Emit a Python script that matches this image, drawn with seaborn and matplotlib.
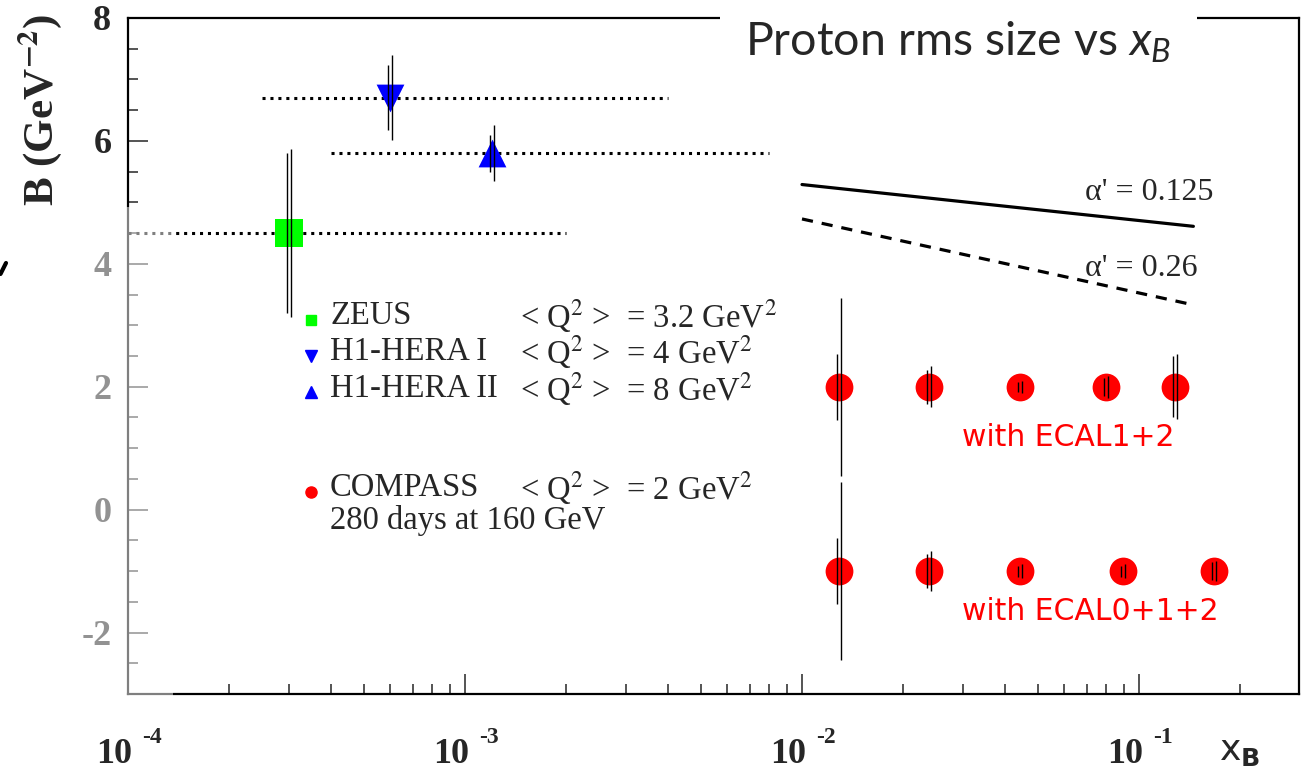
import matplotlib
matplotlib.use("Agg")
import matplotlib.pyplot as plt
import matplotlib.transforms as mtransforms
from matplotlib.patches import Rectangle
from matplotlib.lines import Line2D
from matplotlib.ticker import MultipleLocator, LogLocator, NullFormatter
import seaborn as sns

# ---------------- data ----------------
zeus_x = [3.0e-4]
zeus_y = [4.5]
zeus_stat = [1.30]
zeus_tot = [1.37]
zeus_xlo = [1.0e-4]
zeus_xhi = [2.0e-3]

h1a_x = [6.0e-4]
h1a_y = [6.7]
h1a_stat = [0.53]
h1a_tot = [0.69]
h1a_xlo = [2.5e-4]
h1a_xhi = [4.0e-3]

h1b_x = [1.2e-3]
h1b_y = [5.8]
h1b_stat = [0.30]
h1b_tot = [0.46]
h1b_xlo = [4.0e-4]
h1b_xhi = [8.0e-3]

c12_x = [0.0129, 0.0238, 0.0444, 0.0798, 0.128]
c12_y = [2.0, 2.0, 2.0, 2.0, 2.0]
c12_stat = [0.54, 0.28, 0.08, 0.15, 0.50]
c12_tot = [1.45, 0.33, 0.10, 0.18, 0.53]

c012_x = [0.0129, 0.0238, 0.0444, 0.0897, 0.167]
c012_y = [-1.0, -1.0, -1.0, -1.0, -1.0]
c012_stat = [0.54, 0.28, 0.09, 0.09, 0.14]
c012_tot = [1.45, 0.33, 0.11, 0.11, 0.16]

a125_x = [0.01, 0.145]
a125_y = [5.29, 4.61]
a26_x = [0.01, 0.14]
a26_y = [4.73, 3.35]

xtick_vals = [1e-4, 1e-3, 1e-2, 1e-1]
xtick_base = ["10", "10", "10", "10"]
xtick_exp = ["-4", "-3", "-2", "-1"]
ytick_vals = [-2, 0, 2, 4, 6, 8]
ytick_labels = ["-2", "0", "2", "4", "6", "8"]

legend_names = ["ZEUS", "H1-HERA I", "H1-HERA II", "COMPASS"]
legend_q2 = [r"< Q$^2$ >  = 3.2 GeV$^2$", r"< Q$^2$ >  = 4 GeV$^2$",
             r"< Q$^2$ >  = 8 GeV$^2$", r"< Q$^2$ >  = 2 GeV$^2$"]
compass_note = "280 days at 160 GeV"
alpha_labels = ["\u03b1' = 0.125", "\u03b1' = 0.26"]
ecal_labels = ["with ECAL1+2", "with ECAL0+1+2"]
title_text = r"Proton rms size vs $\mathit{x_B}$"
ylabel_text = r"B (GeV$^{\mathbf{-2}}$)"

# ---------------- style ----------------
sns.set_style("white")
plt.rcParams.update({
    "font.family": ["Liberation Serif", "DejaVu Sans"],
    "mathtext.fontset": "stix",
    "mathtext.it": "Lato:italic",
    "mathtext.rm": "Lato",
    "axes.unicode_minus": False,
    "axes.linewidth": 1.5,
    "axes.edgecolor": "black",
})

fig = plt.figure(figsize=(13.02, 7.74), dpi=100)
ax = fig.add_axes([128 / 1302, 1 - 694 / 774, 1171 / 1302, 676 / 774])
ax.set_xscale("log")

GREEN, BLUE, RED = "#00ff00", "#0000ff", "#ff0000"

# horizontal x-ranges (dotted)
for xlo, xhi, yy in [(zeus_xlo, zeus_xhi, zeus_y), (h1a_xlo, h1a_xhi, h1a_y), (h1b_xlo, h1b_xhi, h1b_y)]:
    ax.hlines(yy, xlo, xhi, colors="black", linestyles=(0, (1, 1.6)), linewidth=2.2, zorder=2)

# alpha' lines
sns.lineplot(x=a125_x, y=a125_y, ax=ax, color="black", linewidth=2.3, zorder=2)
l26 = sns.lineplot(x=a26_x, y=a26_y, ax=ax, color="black", linewidth=2.3, zorder=2)
l26.lines[-1].set_linestyle((0, (3.5, 2.8)))

# markers
ms = 400
sns.scatterplot(x=zeus_x, y=zeus_y, ax=ax, marker="s", s=ms, color=GREEN, linewidth=0, zorder=3)
sns.scatterplot(x=h1a_x, y=h1a_y, ax=ax, marker="v", s=ms, color=BLUE, linewidth=0, zorder=3)
sns.scatterplot(x=h1b_x, y=h1b_y, ax=ax, marker="^", s=ms, color=BLUE, linewidth=0, zorder=3)
sns.scatterplot(x=c12_x, y=c12_y, ax=ax, marker="o", s=ms, color=RED, linewidth=0, zorder=3)
sns.scatterplot(x=c012_x, y=c012_y, ax=ax, marker="o", s=ms, color=RED, linewidth=0, zorder=3)

# error bars: total (right) and stat (left), slightly offset
t_right = mtransforms.offset_copy(ax.transData, fig=fig, x=2.0, y=0, units="dots")
t_left = mtransforms.offset_copy(ax.transData, fig=fig, x=-2.0, y=0, units="dots")
for xs, ys, st, tot in [(zeus_x, zeus_y, zeus_stat, zeus_tot), (h1a_x, h1a_y, h1a_stat, h1a_tot),
                        (h1b_x, h1b_y, h1b_stat, h1b_tot), (c12_x, c12_y, c12_stat, c12_tot),
                        (c012_x, c012_y, c012_stat, c012_tot)]:
    ax.errorbar(xs, ys, yerr=tot, fmt="none", ecolor="black", elinewidth=1.0, capsize=0,
                transform=t_right, zorder=4)
    ax.errorbar(xs, ys, yerr=st, fmt="none", ecolor="black", elinewidth=1.0, capsize=0,
                transform=t_left, zorder=4)

ax.set_xlim(1e-4, 0.2984)
ax.set_ylim(-3, 8)

# ticks
ax.set_xticks(xtick_vals)
ax.set_xticklabels([""] * len(xtick_vals))
ax.xaxis.set_minor_locator(LogLocator(base=10, subs=range(2, 10), numticks=20))
ax.xaxis.set_minor_formatter(NullFormatter())
ax.set_yticks(ytick_vals)
ax.set_yticklabels(ytick_labels, fontsize=26, fontweight="bold", family="Liberation Serif")
ax.yaxis.set_minor_locator(MultipleLocator(0.5))
ax.tick_params(which="major", direction="in", length=14.5, width=1.1, left=True, bottom=True,
               right=False, top=False)
ax.tick_params(which="minor", direction="in", length=7.2, width=1.1, left=True, bottom=True,
               right=False, top=False)
ax.tick_params(axis="y", which="major", pad=12)
for s in ax.spines.values():
    s.set_linewidth(1.6)
    s.set_color("black")

# ROOT-style x tick labels: "10" with a raised exponent
for v, b, e in zip(xtick_vals, xtick_base, xtick_exp):
    ax.annotate(b, xy=(v, 0), xycoords=("data", "axes fraction"), xytext=(3.0, -50.0),
                textcoords="offset points", ha="right", va="baseline", fontsize=26,
                fontweight="bold", family="Liberation Serif", annotation_clip=False)
    ax.annotate(e, xy=(v, 0), xycoords=("data", "axes fraction"), xytext=(10.5, -35.5),
                textcoords="offset points", ha="left", va="baseline", fontsize=17,
                fontweight="bold", family="Liberation Serif", annotation_clip=False)

# legend (manual, ROOT-like)
kx = (311 - 128) / 1171
tx = (330 - 128) / 1171
qx = (520 - 128) / 1171
rows_key = [(694 - 320) / 676, (694 - 356) / 676, (694 - 392) / 676, (694 - 492) / 676]
rows_txt = [(694 - 316) / 676, (694 - 352) / 676, (694 - 389) / 676, (694 - 488) / 676]
keys = [("s", GREEN, 7), ("v", BLUE, 8), ("^", BLUE, 8), ("o", RED, 8)]
for (mk, col, m), yk, yt, name, q2 in zip(keys, rows_key, rows_txt, legend_names, legend_q2):
    ax.plot([kx], [yk], marker=mk, color=col, markersize=m, linestyle="none",
            transform=ax.transAxes, clip_on=False)
    ax.text(tx, yt, name, transform=ax.transAxes, fontsize=23.5, va="center", ha="left",
            family="Liberation Serif")
    ax.text(qx, yt, q2, transform=ax.transAxes, fontsize=23.5, va="center", ha="left",
            family="Liberation Serif")
ax.text(tx, (694 - 521) / 676, compass_note, transform=ax.transAxes, fontsize=23.5, va="center",
        ha="left", family="Liberation Serif")

# alpha' labels
ax.text((1085 - 128) / 1171, (694 - 192) / 676, alpha_labels[0], transform=ax.transAxes,
        fontsize=23, va="center", ha="left", family="Liberation Serif")
ax.text((1085 - 128) / 1171, (694 - 268) / 676, alpha_labels[1], transform=ax.transAxes,
        fontsize=23, va="center", ha="left", family="Liberation Serif")

# ECAL labels
ax.text((962 - 128) / 1171, (694 - 437) / 676, ecal_labels[0], transform=ax.transAxes,
        fontsize=21.5, color=RED, va="center", ha="left", family="DejaVu Sans")
ax.text((962 - 128) / 1171, (694 - 612) / 676, ecal_labels[1], transform=ax.transAxes,
        fontsize=21.5, color=RED, va="center", ha="left", family="DejaVu Sans")

# title box covering the top frame
ax.add_patch(Rectangle(((720 - 128) / 1171, (694 - 80) / 676), (1197 - 720) / 1171, 0.2,
                       transform=ax.transAxes, facecolor="white", edgecolor="none",
                       clip_on=False, zorder=5))
ax.text((958 - 128) / 1171, (694 - 42) / 676, title_text, transform=ax.transAxes,
        fontsize=33.5, va="center", ha="center", family="Lato", math_fontfamily="custom", zorder=6)

# axis labels
fig.text(40 / 1302, 1 - 110 / 774, ylabel_text, rotation=90, ha="center",
         va="center", fontsize=31, fontweight="bold", family="Liberation Serif")
fig.text(1240 / 1302, 1 - 752 / 774, r"$\mathsf{x}_{\mathbf{B}}$", ha="center", va="center",
         fontsize=26, math_fontfamily="dejavusans")

# small stray stroke at the left edge of the original slide
fig.add_artist(Line2D([0.5 / 1302, 6 / 1302], [1 - 274 / 774, 1 - 263 / 774], color="black",
                      linewidth=3, transform=fig.transFigure, zorder=11))

# translucent overlay greying the lower-left frame (as in the original slide)
fig.add_artist(Rectangle((0, 1 - 700 / 774), 173 / 1302, (700 - 207) / 774,
                         transform=fig.transFigure, facecolor="white", alpha=0.5,
                         edgecolor="none", zorder=10))

fig.savefig("out.png", dpi=100)
